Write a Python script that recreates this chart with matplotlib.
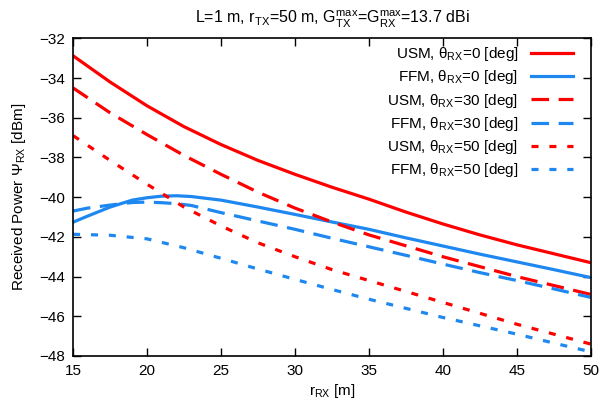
import numpy as np
import matplotlib
matplotlib.use('Agg')
import matplotlib.pyplot as plt

plt.rcParams['font.family'] = ['Liberation Sans', 'DejaVu Sans']
plt.rcParams['mathtext.default'] = 'regular'

# x positions (r_RX in m)
x_red = [15, 17.5, 20, 22.5, 25, 27.5, 30, 32.5, 35, 37.5, 40, 42.5, 45, 47.5, 50]
x_blue = [15, 16, 17.5, 19, 20, 21, 22, 23, 25, 27.5, 30, 32.5, 35, 37.5, 40, 42.5, 45, 47.5, 50]
x_blue50 = [15, 17.5, 20, 22.5, 25, 27.5, 30, 32.5, 35, 37.5, 40, 42.5, 45, 47.5, 50]

# received power [dBm]
usm_0 = [-32.88, -34.2, -35.4, -36.45, -37.35, -38.15, -38.85, -39.5, -40.1, -40.75, -41.35, -41.9, -42.4, -42.85, -43.3]
usm_30 = [-34.5, -35.75, -36.85, -37.9, -38.85, -39.75, -40.55, -41.25, -41.9, -42.45, -43.0, -43.5, -44.0, -44.45, -44.9]
usm_50 = [-36.9, -38.15, -39.35, -40.5, -41.45, -42.3, -43.0, -43.65, -44.2, -44.75, -45.3, -45.85, -46.4, -46.9, -47.4]
ffm_0 = [-41.26, -40.95, -40.5, -40.15, -40.03, -39.95, -39.93, -39.97, -40.15, -40.5, -40.87, -41.25, -41.62, -42.05, -42.46, -42.87, -43.26, -43.65, -44.05]
ffm_30 = [-40.7, -40.55, -40.4, -40.27, -40.25, -40.28, -40.33, -40.42, -40.78, -41.2, -41.62, -42.07, -42.5, -42.93, -43.37, -43.8, -44.2, -44.62, -45.05]
ffm_50 = [-41.87, -41.92, -42.1, -42.55, -43.08, -43.62, -44.14, -44.65, -45.14, -45.6, -46.06, -46.48, -46.9, -47.35, -47.79]

red = '#ff0000'
blue = '#1e88f0'
lw = 2.3
fs = 11
dash = (0, (5.5, 3.0))
dot = (0, (2.2, 3.4))

fig = plt.figure(figsize=(6.04, 4.12), dpi=100)
ax = fig.add_axes([0.121, 0.136, 0.857, 0.771])

ax.plot(x_red, usm_0, color=red, lw=lw, label=r'USM, $\theta_{RX}$=0 [deg]')
ax.plot(x_blue, ffm_0, color=blue, lw=lw, label=r'FFM, $\theta_{RX}$=0 [deg]')
ax.plot(x_red, usm_30, color=red, lw=lw, ls=dash, dash_capstyle='butt', label=r'USM, $\theta_{RX}$=30 [deg]')
ax.plot(x_blue, ffm_30, color=blue, lw=lw, ls=dash, dash_capstyle='butt', label=r'FFM, $\theta_{RX}$=30 [deg]')
ax.plot(x_red, usm_50, color=red, lw=lw, ls=dot, dash_capstyle='butt', label=r'USM, $\theta_{RX}$=50 [deg]')
ax.plot(x_blue50, ffm_50, color=blue, lw=lw, ls=dot, dash_capstyle='butt', label=r'FFM, $\theta_{RX}$=50 [deg]')

ax.set_xlim(15, 50)
ax.set_ylim(-48, -32)
ax.set_xticks(np.arange(15, 51, 5))
ax.set_yticks(np.arange(-48, -31, 2))
ax.tick_params(direction='in', top=True, right=True, length=6, width=1, labelsize=fs, pad=6)
for s in ax.spines.values():
    s.set_linewidth(1.2)

ax.set_xlabel(r'r$_{RX}$ [m]', fontsize=fs, labelpad=3)
ax.set_ylabel(r'Received Power $\Psi_{RX}$ [dBm]', fontsize=fs, labelpad=8)
ax.set_title(r'L=1 m, r$_{TX}$=50 m, G$_{TX}^{max}$=G$_{RX}^{max}$=13.7 dBi', fontsize=11.5, pad=11)

leg = ax.legend(loc='upper right', bbox_to_anchor=(0.965, 0.978), frameon=False,
                markerfirst=False, fontsize=fs, handlelength=2.75, labelspacing=0.34,
                handletextpad=0.8, borderaxespad=0, borderpad=0)
for t in leg.get_texts():
    t.set_ha('right')

fig.savefig('out.png', dpi=100)
